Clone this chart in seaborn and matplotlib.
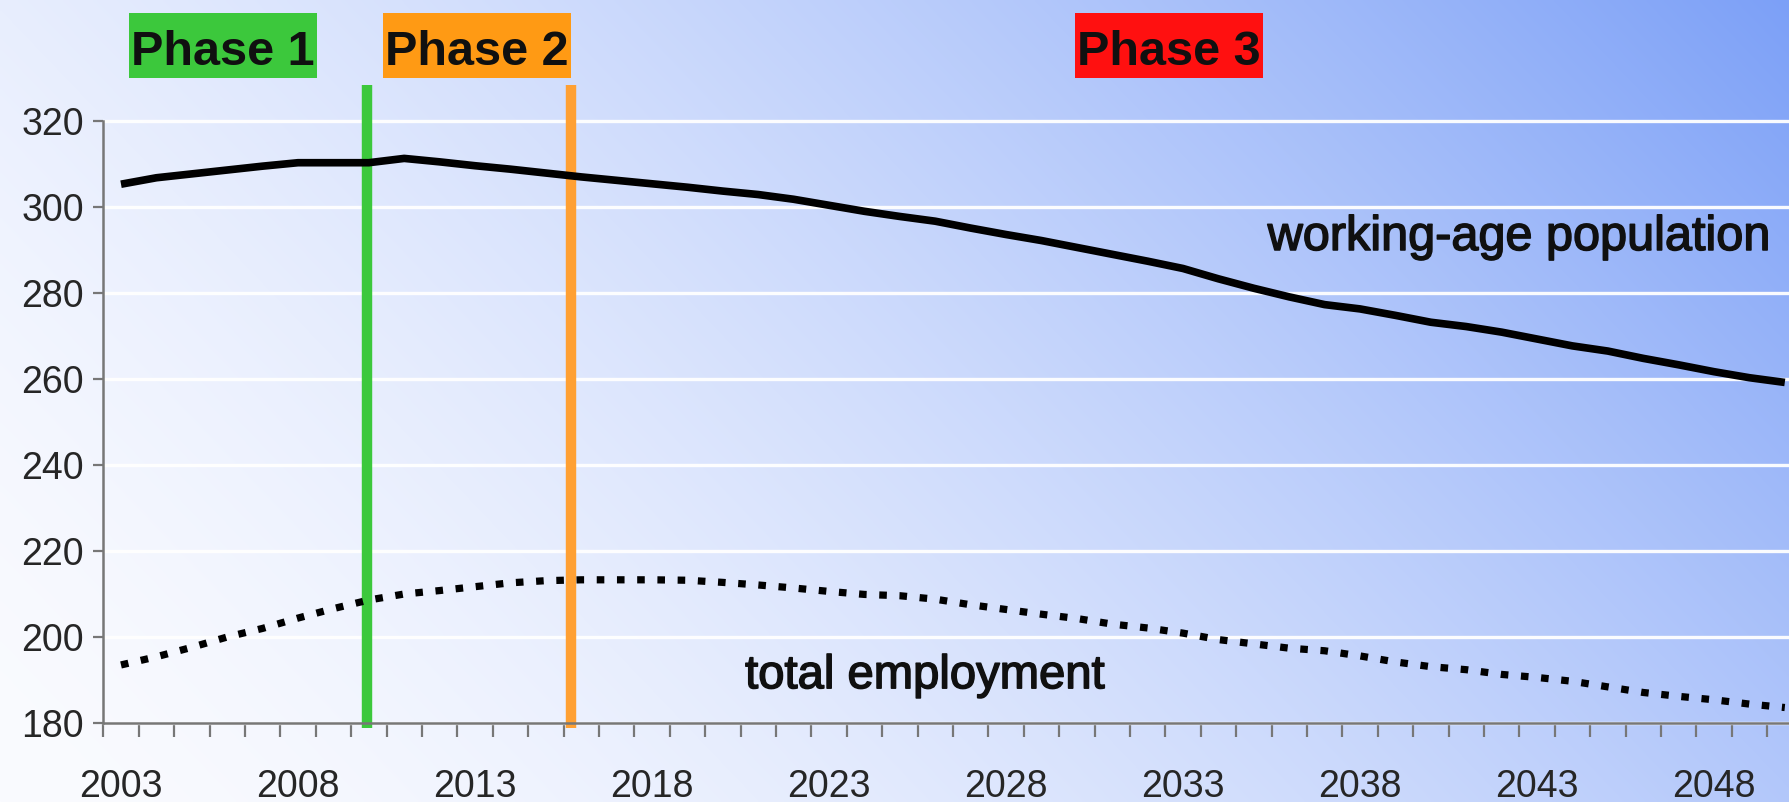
import numpy as np
import pandas as pd
import matplotlib
matplotlib.use("Agg")
import matplotlib.pyplot as plt
import matplotlib.transforms as mtransforms
import matplotlib.patheffects as pe
from matplotlib.patches import Rectangle
import seaborn as sns

# ---- data -------------------------------------------------------------
years = list(range(2003, 2051))

working_age_population = [
    305.3, 306.8, 307.7, 308.6, 309.5, 310.3, 310.3, 310.3, 311.3, 310.5,
    309.6, 308.8, 307.9, 307.0, 306.2, 305.4, 304.6, 303.7, 302.9, 301.8,
    300.4, 299.0, 297.8, 296.7, 295.1, 293.6, 292.2, 290.6, 289.0, 287.4,
    285.7, 283.3, 281.1, 279.1, 277.3, 276.3, 274.8, 273.2, 272.2, 270.9,
    269.3, 267.7, 266.5, 264.8, 263.3, 261.7, 260.3, 259.2,
]

total_employment = [
    193.5, 195.4, 197.6, 200.0, 202.0, 204.4, 206.6, 208.6, 210.0, 210.8,
    211.7, 212.6, 213.1, 213.3, 213.3, 213.3, 213.2, 212.7, 212.1, 211.4,
    210.6, 209.9, 209.6, 208.8, 207.5, 206.4, 205.3, 204.3, 203.0, 202.1,
    200.9, 199.4, 198.4, 197.4, 196.8, 195.6, 194.2, 193.1, 192.4, 191.3,
    190.6, 189.7, 188.4, 187.1, 186.2, 185.4, 184.4, 183.6,
]

phase_labels = ["Phase 1", "Phase 2", "Phase 3"]
phase_breaks = [2009.95, 2015.7]          # years where a new phase begins
label_years = list(range(2003, 2051, 5))
y_ticks = list(range(180, 321, 20))

df = pd.DataFrame({
    "year": years,
    "working-age population": working_age_population,
    "total employment": total_employment,
})

# ---- styling ----------------------------------------------------------
W, H, DPI = 1790, 802, 100
sns.set_style("white")
plt.rcParams["font.family"] = ["Liberation Sans", "DejaVu Sans"]

phase_box_colors = ["#3cc83c", "#ff9a14", "#ff1010"]
phase_line_colors = ["#3cc83c", "#ffa033"]
axis_grey = "#777777"
label_grey = "#262626"
text_black = "#101010"
heavy = [pe.withStroke(linewidth=1.1, foreground=text_black)]

fig = plt.figure(figsize=(W / DPI, H / DPI), dpi=DPI)

def fx(px):
    return px / W

def fy(py):
    return 1 - py / H

# background: soft diagonal gradient, white at lower left to blue at upper right
bg = fig.add_axes([0, 0, 1, 1], zorder=-10)
u = np.linspace(0, 1, 600)[None, :]
v = np.linspace(1, 0, 300)[:, None]
t = np.clip(0.7 * u + 0.3 * v, 0, 1) ** 1.6
c0 = np.array([250, 251, 255]) / 255.0
c1 = np.array([124, 160, 247]) / 255.0
grad = c0[None, None, :] * (1 - t[..., None]) + c1[None, None, :] * t[..., None]
bg.imshow(grad, aspect="auto", extent=[0, 1, 0, 1], interpolation="bilinear")
bg.set_axis_off()

# plotting area
ax_left_px, ax_right_px = 103.3, 1802.5
ax_top_px, ax_bottom_px = 121, 723
ax = fig.add_axes([fx(ax_left_px), fy(ax_bottom_px),
                   (ax_right_px - ax_left_px) / W,
                   (ax_bottom_px - ax_top_px) / H])
ax.set_facecolor("none")

sns.lineplot(data=df, x="year", y="working-age population", ax=ax,
             color="black", lw=5.5, zorder=4, solid_capstyle="butt",
             solid_joinstyle="round")
sns.lineplot(data=df, x="year", y="total employment", ax=ax,
             color="black", lw=5.2, linestyle=(0, (1.05, 1.75)),
             dash_capstyle="butt", zorder=4)

ax.set_xlim(2002.5, 2050.5)
ax.set_ylim(180, 320)
ax.set_xlabel("")
ax.set_ylabel("")

ax.set_xticks(label_years)
ax.set_xticklabels([str(y) for y in label_years])
ax.set_xticks(np.arange(2002.5, 2051, 1.0), minor=True)
ax.tick_params(axis="x", which="major", length=0, pad=33,
               labelsize=27, labelcolor=label_grey)
ax.tick_params(axis="x", which="minor", length=10, width=1.6,
               color=axis_grey, direction="out", bottom=True)
ax.set_yticks(y_ticks)
ax.tick_params(axis="y", which="major", length=7, width=1.6, pad=7,
               color=axis_grey, labelsize=27, labelcolor=label_grey, left=True)

ax.yaxis.grid(True, color="white", lw=2.4, alpha=0.95, zorder=0)
ax.xaxis.grid(False)
ax.set_axisbelow(True)
for gl in ax.get_ygridlines():
    gl.set_clip_on(False)

for side in ("top", "right"):
    ax.spines[side].set_visible(False)
for side in ("left", "bottom"):
    ax.spines[side].set_color(axis_grey)
    ax.spines[side].set_linewidth(1.8)
    ax.spines[side].set_zorder(5)

# phase boundaries, running from above the plot down to the x axis
blend = mtransforms.blended_transform_factory(ax.transData, ax.transAxes)
for xb, col in zip(phase_breaks, phase_line_colors):
    ax.plot([xb, xb], [-0.008, 1.06], transform=blend, color=col, lw=7.5,
            solid_capstyle="butt", clip_on=False, zorder=3)

# phase headers
box_left_px = [129, 383, 1075]
box_w_px, box_top_px, box_h_px = 188, 13, 65
for lab, col, bx in zip(phase_labels, phase_box_colors, box_left_px):
    fig.add_artist(Rectangle((fx(bx), fy(box_top_px + box_h_px)),
                             box_w_px / W, box_h_px / H,
                             transform=fig.transFigure, facecolor=col,
                             edgecolor="none", zorder=6))
    fig.text(fx(bx + box_w_px / 2), fy(65), lab, ha="center", va="baseline",
             fontsize=35, fontweight="bold", color=text_black, zorder=7)

# series labels
ax.text(2049.58, 290.0, "working-age population", ha="right", va="baseline",
        fontsize=35, color=text_black, zorder=6, path_effects=heavy)
ax.text(2020.63, 188.1, "total employment", ha="left", va="baseline",
        fontsize=34, color=text_black, zorder=6, path_effects=heavy)

fig.savefig("out.png", dpi=DPI)
